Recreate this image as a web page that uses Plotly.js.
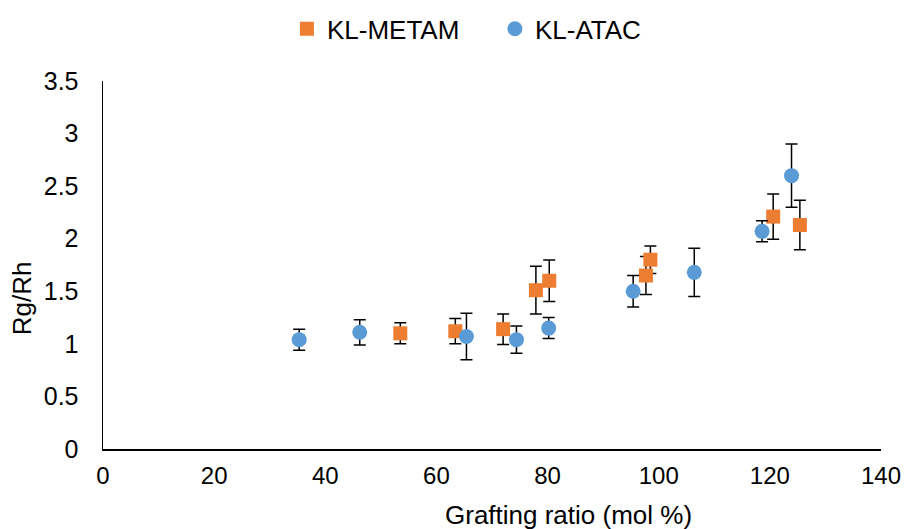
<!DOCTYPE html>
<html>
<head>
<meta charset="utf-8">
<script src="https://cdn.plot.ly/plotly-3.0.1.min.js"></script>
<style>html,body{margin:0;padding:0;background:#fff;}#chart{width:904px;height:529px;}</style>
</head>
<body>
<div id="chart"></div>
<script>
// KL-METAM series
var metamX = [53.5, 63.4, 72.0, 77.9, 80.3, 97.7, 98.5, 120.6, 125.4];
var metamY = [1.10, 1.12, 1.14, 1.51, 1.60, 1.65, 1.80, 2.21, 2.13];
var metamErr = [0.10, 0.12, 0.145, 0.227, 0.197, 0.18, 0.13, 0.215, 0.235];

// KL-ATAC series
var atacX = [35.3, 46.2, 65.4, 74.4, 80.2, 95.4, 106.4, 118.6, 123.9];
var atacY = [1.04, 1.11, 1.07, 1.04, 1.15, 1.50, 1.68, 2.07, 2.60];
var atacErr = [0.10, 0.12, 0.22, 0.13, 0.10, 0.15, 0.23, 0.10, 0.30];

var seriesNames = ["KL-METAM", "KL-ATAC"];
var xTitle = "Grafting ratio (mol %)";
var yTitle = "Rg/Rh";

var FONT = "Arial, 'Liberation Sans', sans-serif";

var traces = [
  {
    x: metamX, y: metamY, name: seriesNames[0], type: "scatter", mode: "markers",
    marker: {symbol: "square", size: 14, color: "#ED7D31"},
    error_y: {type: "data", array: metamErr, visible: true, color: "#000", thickness: 1.5, width: 6}
  },
  {
    x: atacX, y: atacY, name: seriesNames[1], type: "scatter", mode: "markers",
    marker: {symbol: "circle", size: 15, color: "#5B9BD5"},
    error_y: {type: "data", array: atacErr, visible: true, color: "#000", thickness: 1.5, width: 6}
  }
];

var layout = {
  width: 904, height: 529,
  paper_bgcolor: "#ffffff", plot_bgcolor: "#ffffff",
  margin: {l: 103, r: 23, t: 81, b: 80},
  font: {family: FONT, size: 24, color: "#000"},
  showlegend: true,
  legend: {orientation: "h", x: 0.2364, xanchor: "left", y: 0.99, yref: "container", yanchor: "top",
           font: {family: FONT, size: 26, color: "#000"}, itemwidth: 30, entrywidth: 163,
           entrywidthmode: "pixels", traceorder: "normal"},
  xaxis: {
    range: [0, 140], dtick: 20, tick0: 0, showgrid: false, zeroline: false,
    showline: true, linecolor: "#000", linewidth: 1.5, ticks: "", ticklabelstandoff: 5,
    tickfont: {family: FONT, size: 24, color: "#000"},
    automargin: false
  },
  yaxis: {
    range: [0, 3.5], dtick: 0.5, tick0: 0, showgrid: false, zeroline: false,
    showline: true, linecolor: "#000", linewidth: 1.5, ticks: "", ticklabelstandoff: 18,
    tickfont: {family: FONT, size: 25, color: "#000"},
    automargin: false
  },
  annotations: [
    {text: xTitle, xref: "paper", yref: "paper", x: 0.598, y: -0.178, xanchor: "center", yanchor: "middle",
     showarrow: false, font: {family: FONT, size: 26, color: "#000"}},
    {text: yTitle, xref: "paper", yref: "paper", x: -0.104, y: 0.41, xanchor: "center", yanchor: "middle",
     textangle: -90, showarrow: false, font: {family: FONT, size: 26, color: "#000"}}
  ]
};

Plotly.newPlot("chart", traces, layout, {displayModeBar: false, staticPlot: true});
</script>
</body>
</html>
